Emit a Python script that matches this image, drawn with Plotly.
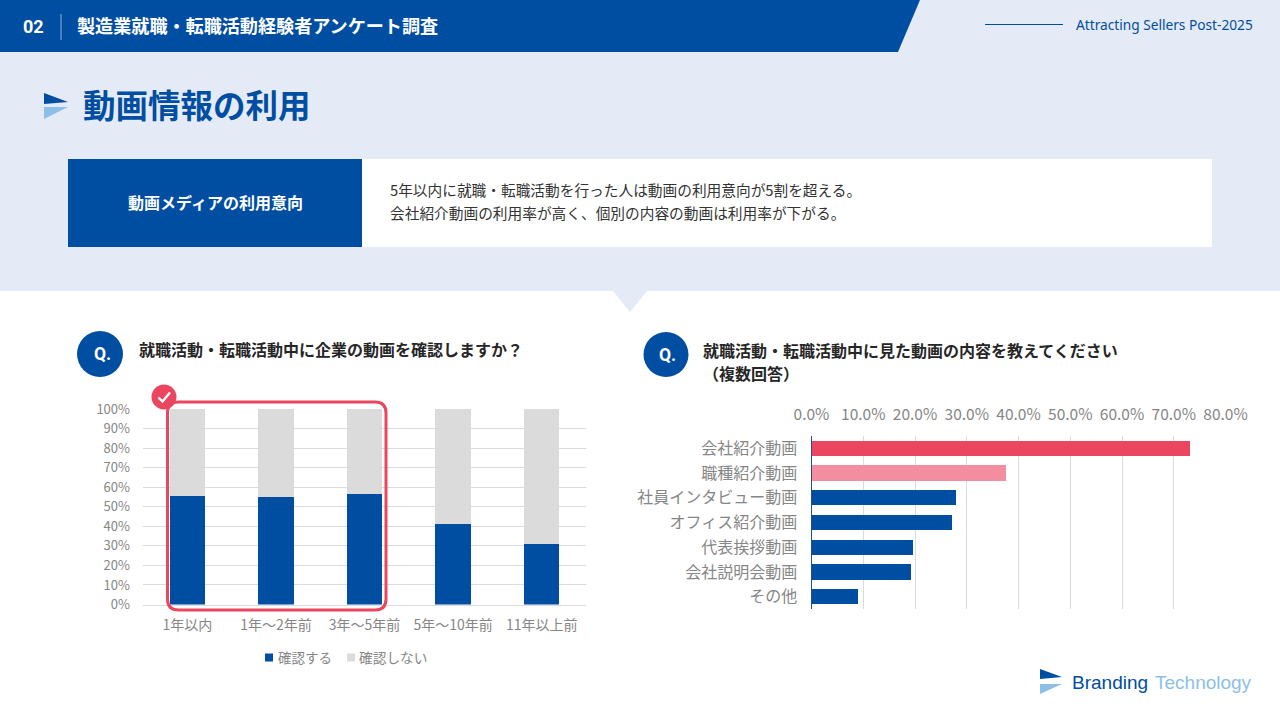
import plotly.graph_objects as go

# ---------- data ----------
years = ["1年以内", "1年～2年前", "3年～5年前", "5年～10年前", "11年以上前"]
watch_yes = [55.4, 54.9, 56.4, 41.0, 30.8]
watch_no = [44.6, 45.1, 43.6, 59.0, 69.2]
kinds = ["会社紹介動画", "職種紹介動画", "社員インタビュー動画", "オフィス紹介動画", "代表挨拶動画", "会社説明会動画", "その他"]
kind_values = [73.1, 37.6, 27.9, 27.1, 19.6, 19.2, 9.0]
kind_colors = ["#EB4660", "#F28EA0", "#004EA2", "#004EA2", "#004EA2", "#004EA2", "#004EA2"]
pct_ticks = [0, 10, 20, 30, 40, 50, 60, 70, 80, 90, 100]
pct_labels = ["0%", "10%", "20%", "30%", "40%", "50%", "60%", "70%", "80%", "90%", "100%"]
share_ticks = [0, 10, 20, 30, 40, 50, 60, 70, 80]
share_labels = ["0.0%", "10.0%", "20.0%", "30.0%", "40.0%", "50.0%", "60.0%", "70.0%", "80.0%"]

BLUE = "#004EA2"
PALE = "#E5EBF6"
PINK = "#EB4660"
SKY = "#8CBFE8"
GRID = "#DBDBDB"
GREY = "#868686"
JP = "'Noto Sans CJK JP', 'Noto Sans', sans-serif"
LATIN = "Roboto, 'Noto Sans', sans-serif"
W, H = 1280, 720


def px(x):
    return x / W


def py(y):
    return 1 - y / H


def P(*pts):
    return "M" + "L".join(f"{px(x):.5f},{py(y):.5f}" for x, y in pts) + "Z"


def rect(x0, y0, x1, y1, color, layer="below"):
    return dict(type="rect", xref="paper", yref="paper", x0=px(x0), x1=px(x1), y0=py(y1), y1=py(y0),
                fillcolor=color, line_width=0, layer=layer)


def poly(pts, color, layer="below"):
    return dict(type="path", xref="paper", yref="paper", path=P(*pts), fillcolor=color, line_width=0, layer=layer)


def circle(cx, cy, r, color, layer="below"):
    return dict(type="circle", xref="paper", yref="paper", x0=px(cx - r), x1=px(cx + r), y0=py(cy + r), y1=py(cy - r),
                fillcolor=color, line_width=0, layer=layer)


def line(x0, y0, x1, y1, color, width=1, layer="below"):
    return dict(type="line", xref="paper", yref="paper", x0=px(x0), x1=px(x1), y0=py(y0), y1=py(y1),
                line=dict(color=color, width=width), layer=layer)


def text(x, y, s, size, color, bold=False, anchor="left", family=JP):
    return dict(xref="paper", yref="paper", x=px(x), y=py(y), text=f"<b>{s}</b>" if bold else s, showarrow=False,
                xanchor=anchor, yanchor="middle", align=anchor, borderpad=0, borderwidth=0,
                font=dict(size=size, color=color, family=family))


def round_box(x0, y0, x1, y1, r):
    c = lambda x, y: f"{px(x):.5f},{py(y):.5f}"
    return (f"M{c(x0 + r, y0)}L{c(x1 - r, y0)}Q{c(x1, y0)} {c(x1, y0 + r)}L{c(x1, y1 - r)}Q{c(x1, y1)} {c(x1 - r, y1)}"
            f"L{c(x0 + r, y1)}Q{c(x0, y1)} {c(x0, y1 - r)}L{c(x0, y0 + r)}Q{c(x0, y0)} {c(x0 + r, y0)}Z")


shapes = [
    rect(0, 0, W, 291, PALE),
    poly([(613, 291), (647, 291), (630, 312)], PALE),
    poly([(0, 0), (920, 0), (898, 52), (0, 52)], BLUE),
    line(61, 14, 61, 40, "#8FB0D8", 1),
    line(985, 24.5, 1063, 24.5, BLUE, 1),
    poly([(44, 93), (68, 102), (44, 104)], BLUE),
    poly([(44, 107), (68, 107), (44, 119)], SKY),
    rect(68, 159, 362, 247, BLUE),
    rect(362, 159, 1212, 247, "#FFFFFF"),
    circle(100, 354, 23, BLUE),
    circle(666, 354.5, 22.5, BLUE),
    poly([(1040, 669), (1062, 677), (1040, 679)], BLUE),
    poly([(1040, 684), (1062, 684), (1040, 694)], SKY),
    rect(265, 653.5, 273, 661.5, BLUE),
    rect(347, 653.5, 355, 661.5, GRID),
    dict(type="path", xref="paper", yref="paper", path=round_box(167.5, 402, 386, 610, 11),
         line=dict(color=PINK, width=3), fillcolor="rgba(0,0,0,0)", layer="above"),
    circle(164, 397, 12.5, PINK, "above"),
    dict(type="path", xref="paper", yref="paper",
         path=f"M{px(158.5):.5f},{py(397.5):.5f}L{px(162.5):.5f},{py(401.5):.5f}L{px(170):.5f},{py(392.5):.5f}",
         line=dict(color="#FFFFFF", width=2.4), fillcolor="rgba(0,0,0,0)", layer="above"),
]

annotations = [
    text(33, 27, "02", 18, "#FFFFFF", True, "center", LATIN),
    text(77, 25.5, "製造業就職・転職活動経験者アンケート調査", 18.1, "#FFFFFF", True),
    text(1076, 25, "Attracting Sellers Post-2025", 13.7, BLUE, False, family="'Noto Sans', sans-serif"),
    text(83, 103.5, "動画情報の利用", 32.5, BLUE, True),
    text(215, 202, "動画メディアの利用意向", 16, "#FFFFFF", True, "center"),
    text(390, 189.5, "5年以内に就職・転職活動を行った人は動画の利用意向が5割を超える。", 14.7, "#333333"),
    text(390, 212.5, "会社紹介動画の利用率が高く、個別の内容の動画は利用率が下がる。", 14.7, "#333333"),
    text(102.5, 354, "Q.", 17.5, "#FFFFFF", True, "center", LATIN),
    text(667.5, 354.5, "Q.", 17.5, "#FFFFFF", True, "center", LATIN),
    text(139, 349.5, "就職活動・転職活動中に企業の動画を確認しますか？", 16, "#262626", True),
    text(703, 350, "就職活動・転職活動中に見た動画の内容を教えてください", 16, "#262626", True),
    text(703, 372.5, "（複数回答）", 16, "#262626", True),
    text(278, 656.5, "確認する", 13.5, GREY),
    text(359, 656.5, "確認しない", 13.7, GREY),
    text(1072, 682, "Branding", 19, BLUE, False, family="'Liberation Sans', sans-serif"),
    text(1155, 682, "Technology", 19, SKY, False, family="'Liberation Sans', sans-serif"),
]

fig = go.Figure()
fig.add_bar(x=years, y=watch_yes, name="確認する", marker_color=BLUE, marker_line_width=0, xaxis="x", yaxis="y", hoverinfo="skip")
fig.add_bar(x=years, y=watch_no, name="確認しない", marker_color=GRID, marker_line_width=0, xaxis="x", yaxis="y", hoverinfo="skip")
fig.add_bar(x=kind_values, y=kinds, orientation="h", marker_color=kind_colors, marker_line_width=0, width=0.62,
            xaxis="x2", yaxis="y2", hoverinfo="skip")

fig.update_layout(
    template="none",
    width=W, height=H, margin=dict(l=0, r=0, t=0, b=0, pad=0),
    paper_bgcolor="#FFFFFF", plot_bgcolor="rgba(0,0,0,0)",
    font=dict(family=JP, color=GREY, size=13.5),
    barmode="stack", bargap=0.6, showlegend=False,
    shapes=shapes, annotations=annotations,
    xaxis=dict(domain=[px(143), px(586)], anchor="y", showgrid=False, showline=True, linecolor=GRID, linewidth=1,
               ticks="", tickfont=dict(size=14, color=GREY), ticklabelstandoff=8, fixedrange=True, automargin=False),
    yaxis=dict(domain=[py(604.5), py(409)], anchor="x", range=[0, 100], tickvals=pct_ticks, ticktext=pct_labels,
               showgrid=True, gridcolor=GRID, gridwidth=1, zeroline=False, showline=False, ticks="",
               tickfont=dict(size=13, color=GREY), ticklabelstandoff=12, fixedrange=True, automargin=False),
    xaxis2=dict(domain=[px(811.5), px(1225.5)], anchor="y2", side="top", range=[0, 80], tickvals=share_ticks,
                ticktext=share_labels, showgrid=True, gridcolor=GRID, gridwidth=1, zeroline=False,
                showline=False, ticks="", tickfont=dict(size=15.5, color=GREY), ticklabelstandoff=12, fixedrange=True,
                automargin=False),
    yaxis2=dict(domain=[py(609), py(436)], anchor="x2", autorange="reversed", showgrid=False, showline=True,
                linecolor="#1F4E8C", linewidth=1, ticks="", tickfont=dict(size=16, color=GREY),
                ticklabelstandoff=10, fixedrange=True, automargin=False),
)

fig.write_html("out.html", config={"displayModeBar": False},
               post_script="document.body.style.margin='0';window.dispatchEvent(new Event('resize'));")
